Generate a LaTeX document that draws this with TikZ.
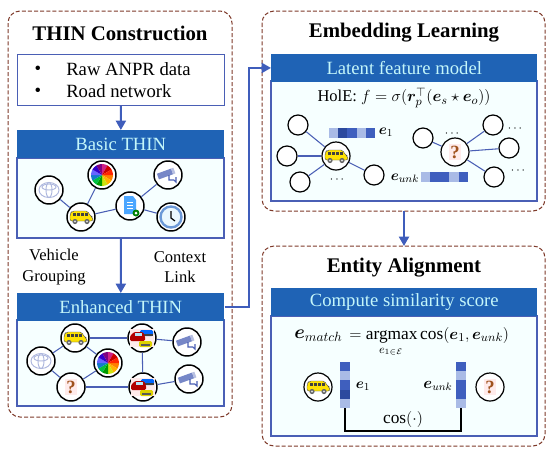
\documentclass[tikz,border=0pt]{standalone}
\usepackage{amsmath,bm}
\usepackage{fontspec}
\setmainfont{Liberation Serif}
\usetikzlibrary{arrows.meta}
\definecolor{hdrblue}{HTML}{1F63B5}
\definecolor{hdrtext}{HTML}{C4F6FA}
\definecolor{edgeblue}{HTML}{4A5FB5}
\definecolor{flowblue}{HTML}{3F5DBB}
\definecolor{dashbrown}{HTML}{7E3A2A}
\definecolor{tintbg}{HTML}{F6FFFF}
\definecolor{cellA}{HTML}{3F5FBE}
\definecolor{cellB}{HTML}{A9BBE6}
\definecolor{cellC}{HTML}{2C4A9E}
\definecolor{qbrown}{HTML}{A0521E}
\tikzset{
 x=0.75pt,y=-0.75pt,
 panel/.style={draw=dashbrown,dash pattern=on 3pt off 1.6pt,line width=0.75pt,rounded corners=9pt},
 boxframe/.style={draw=edgeblue,line width=0.9pt,fill=tintbg},
 hdr/.style={fill=hdrblue,text=hdrtext,font=\fontsize{14}{16}\selectfont,inner sep=0pt,anchor=north west,minimum height=20.5pt},
 ttl/.style={font=\bfseries\fontsize{15.6}{17}\selectfont,inner sep=0pt},
 lbl/.style={font=\fontsize{12.4}{14}\selectfont,inner sep=0pt,align=center},
 big/.style={font=\fontsize{14}{16}\selectfont},
 mid/.style={font=\fontsize{13}{15}\selectfont},
 flow/.style={draw=flowblue,line width=1.5pt,-{Triangle[length=7pt,width=7.5pt]}},
 ent/.style={circle,draw=black,line width=1.1pt,fill=white,minimum size=21pt,inner sep=0pt},
 hollow/.style={circle,draw=black,line width=0.9pt,fill=white,minimum size=15pt,inner sep=0pt},
 link/.style={draw=edgeblue,line width=0.8pt},
 qm/.style={font=\bfseries\fontsize{14}{14}\selectfont,text=qbrown,fill=red!8,inner sep=1pt},
 busicon/.pic={
  \fill[yellow!85!orange,draw=black!70,line width=.3pt,rounded corners=1.5pt] (-11,4) -- (-11,-3) -- (-9,-6) -- (7,-6) -- (9,-1) -- (12,0) -- (12,4) -- cycle;
  \foreach \q in {-8,-4,0,4}{\fill[black!75] (\q,-4.5) rectangle ++(2.6,3.2);}
  \fill[gray!80!black] (-6,4.5) circle (2.6) (6,4.5) circle (2.6);
  \fill[gray!30] (-6,4.5) circle (1.1) (6,4.5) circle (1.1);
 },
 wheelicon/.pic={
  \foreach \a/\c in {0/orange,30/orange!60!yellow,60/yellow!80!green,90/green!60!black,120/green!50!teal,150/cyan!60!blue,180/blue!60,210/blue!60!violet,240/violet,270/magenta!70!violet,300/red!80!black,330/red!70!orange}{
   \fill[\c] (0,0) -- (\a:11) arc[start angle=\a,delta angle=30,radius=11] -- cycle;}
 },
 camicon/.pic={
  \fill[edgeblue!75,rotate=20] (-10,-5) rectangle (5,1);
  \fill[edgeblue!40,rotate=20] (5,-5) rectangle (7.5,1);
  \draw[edgeblue,line width=.8pt] (1,0) -- (1,5) -- (6,5) -- (8,7) -- (8,2);
 },
 clockicon/.pic={
  \draw[cyan!50!blue!60,line width=1.8pt,fill=cyan!8] (0,0) circle (10.5);
  \draw[black,line width=.9pt] (0,-6) -- (0,1) -- (4,4);
 },
 docicon/.pic={
  \fill[blue!50!cyan!70] (-6,-10) -- (3,-10) -- (6,-6) -- (6,8) -- (-6,8) -- cycle;
  \draw[white,line width=.4pt] (-3,-4) -- (3,-4) (-3,-1) -- (3,-1) (-3,2) -- (3,2);
  \fill[green!50!black] (6,7) circle (3.5);
  \fill[white] (6,7) circle (1.5);
 },
 toyicon/.pic={
  \draw[edgeblue!45,line width=.7pt] (0,0) ellipse (10 and 7.5);
  \draw[edgeblue!45,line width=.7pt] (0,0) ellipse (3 and 7.5);
  \draw[edgeblue!45,line width=.7pt] (0,-3) ellipse (7 and 3);
 },
 carsicon/.pic={
  \fill[red!8] (-12,-9) rectangle (12,9);
  \fill[blue!60!cyan,rounded corners=1pt] (-2,-8) rectangle (11,-2);
  \fill[black!75] (-2,-4) rectangle (11,-2);
  \fill[red!70!black,rounded corners=1pt] (-12,-2) -- (-8,-6) -- (1,-6) -- (3,-2) -- (3,3) -- (-12,3) -- cycle;
  \fill[white!70!cyan] (-7,-5) rectangle (0,-2.5);
  \fill[yellow!70!olive,rounded corners=1pt] (-3,3) rectangle (10,9);
  \fill[black!65] (-1,6) rectangle (8,7.5);
 },
}
\begin{document}
\begin{tikzpicture}
\useasboundingbox (0,0) rectangle (550,451);
\fill[white] (0,0) rectangle (550,451);
% panels
\draw[panel] (8,11) rectangle (232,417);
\draw[panel] (262,11) rectangle (545,211);
\draw[panel] (262,246) rectangle (545,446);
% titles
\node[ttl] at (120,33) {THIN Construction};
\node[ttl] at (404,33) {Embedding Learning};
\node[ttl] at (404,268) {Entity Alignment};
% input box
\node[draw=edgeblue,line width=.9pt,fill=white,anchor=north west,minimum width=155.25pt,minimum height=38.25pt,inner sep=0pt] (raw) at (17,54) {};
\node[lbl,big] at (38,70.5) {•};
\node[lbl,big] at (38,92.5) {•};
\node[lbl,big,anchor=west] at (66,69.5) {Raw ANPR data};
\node[lbl,big,anchor=west] at (66,91.5) {Road network};
% content frames
\draw[boxframe] (17,158) rectangle (224,238);
\draw[boxframe] (17,320) rectangle (224,406);
\draw[boxframe] (271,81) rectangle (537,201);
\draw[boxframe] (271,316) rectangle (537,436);
% headers
\node[hdr,minimum width=155.25pt] (basic) at (17,130) {Basic THIN};
\node[hdr,minimum width=155.25pt] (enh) at (17,293) {Enhanced THIN};
\node[hdr,minimum width=199.5pt] (lat) at (271,54) {Latent feature model};
\node[hdr,minimum width=199.5pt] (comp) at (271,288) {Compute similarity score};
% group frames
\coordinate (basicb) at (121,238);
\coordinate (embb) at (404,211);
\coordinate (entt) at (404,246);
\draw[flow] (raw) -- (basic);
\draw[flow] (basicb) -- (enh);
\draw[flow] (enh.east) -- ++(24,0) |- (lat.west);
\draw[flow] (embb) -- (entt);
\node[lbl] at (54,267) {Vehicle\\[1.5pt]Grouping};
\node[lbl] at (180,267) {Context\\[1.5pt]Link};
% Basic THIN graph
\node[ent] (b1) at (49,190) {};
\node[ent] (b2) at (102,175) {};
\node[ent] (b3) at (168,175) {};
\node[ent] (b4) at (130,206) {};
\node[ent] (b5) at (81,217) {};
\node[ent] (b6) at (171,217) {};
\path (b1) pic {toyicon};
\path (b2) pic {wheelicon};
\path (b3) pic {camicon};
\path (b4) pic {docicon};
\path (b5) pic {busicon};
\path (b6) pic {clockicon};
\draw[link] (b1) -- (b5);
\draw[link] (b2) -- (b5);
\draw[link] (b5) -- (b4);
\draw[link] (b4) -- (b3);
\draw[link] (b4) -- (b6);
% Enhanced THIN graph
\node[ent] (e1) at (41,361) {};
\node[ent] (e2) at (75,338) {};
\node[ent] (e3) at (108,363) {};
\node[ent] (e4) at (71,387) {};
\node[ent] (e5) at (142,338) {};
\node[ent] (e6) at (143,387) {};
\node[ent] (e7) at (187,342) {};
\node[ent] (e8) at (189,379) {};
\path (e1) pic {toyicon};
\path (e2) pic {busicon};
\path (e3) pic {wheelicon};
\node[qm] at (e4) {?};
\path (e5) pic {carsicon};
\path (e6) pic {carsicon};
\path (e7) pic {camicon};
\path (e8) pic {camicon};
\draw[link] (e1) -- (e2);
\draw[link] (e1) -- (e4);
\draw[link] (e2) -- (e3);
\draw[link] (e4) -- (e3);
\draw[link] (e2) -- (e5);
\draw[link] (e4) -- (e6);
\draw[link] (e5) -- (e6);
\draw[link] (e5) -- (e7);
\draw[link] (e6) -- (e8);
% Embedding
\node[lbl] at (404,98) {HolE: $f=\sigma(\bm{r}_p^{\top}(\bm{e}_s\star\bm{e}_o))$};
\node[hollow] (l1) at (298,125) {};
\node[hollow] (l2) at (287,156) {};
\node[hollow] (l3) at (300,182) {};
\node[hollow] (l4) at (374,175) {};
\node[ent,line width=.9pt] (lb) at (336,156) {};
\path (lb) pic {busicon};
\draw[link] (l1) -- (lb);
\draw[link] (l2) -- (lb);
\draw[link] (l3) -- (lb);
\draw[link] (l4) -- (lb);
\node[hollow] (r1) at (423,138) {};
\node[hollow] (r2) at (493,125) {};
\node[hollow] (r3) at (509,148) {};
\node[hollow] (r4) at (494,177) {};
\node[ent,line width=.9pt] (rq) at (455,152) {};
\node[qm] at (rq) {?};
\draw[link] (r1) -- (rq);
\draw[link] (r2) -- (rq);
\draw[link] (r3) -- (rq);
\draw[link] (r4) -- (rq);
\foreach \i/\c in {0/cellB,1/cellC,2/cellA,3/cellB,4/cellA}{\fill[\c] (329+9.2*\i,128) rectangle ++(9.2,9.5);}
\foreach \i/\c in {0/cellB,1/cellA,2/cellA,3/cellB,4/cellA}{\fill[\c] (421+9.4*\i,172) rectangle ++(9.4,10);}
\node[lbl,font=\fontsize{11}{13}\selectfont] at (386,132) {$\bm{e}_1$};
\node[lbl,font=\fontsize{11}{13}\selectfont] at (405,178) {$\bm{e}_{unk}$};
\foreach \p in {(338,180),(453,134),(516,129),(519,171)}{\node[lbl,font=\fontsize{9}{9}\selectfont] at \p {$\cdots$};}
% Alignment
\node[lbl,big,anchor=west] at (294,336) {$\bm{e}_{match}$};
\node[lbl,mid,anchor=west] at (349,335) {$=\text{argmax}\,\text{cos}(\bm{e}_1,\bm{e}_{unk})$};
\node[lbl,font=\fontsize{9}{10}\selectfont] at (391,352) {$e_{1\in\mathcal{E}}$};
\foreach \i/\c in {0/cellA,1/cellB,2/cellA,3/cellC,4/cellB}{\fill[\c] (340,362+9.2*\i) rectangle ++(10,9.2);}
\foreach \i/\c in {0/cellA,1/cellB,2/cellA,3/cellA,4/cellB}{\fill[\c] (456,362+9.2*\i) rectangle ++(10,9.2);}
\coordinate (lbarb) at (345,408);
\coordinate (rbarb) at (461,408);
\coordinate (cosL) at (345,431);
\coordinate (cosR) at (461,431);
\draw[black,line width=.8pt] (lbarb) -- (cosL) -- (cosR) -- (rbarb);
\node[ent,line width=.9pt] (ab) at (318,387) {};
\path (ab) pic {busicon};
\node[ent,line width=.9pt] (aq) at (490,387) {};
\node[qm] at (aq) {?};
\node[lbl,font=\fontsize{11}{13}\selectfont] at (363,386) {$\bm{e}_1$};
\node[lbl,font=\fontsize{11.5}{13}\selectfont] at (438,386) {$\bm{e}_{unk}$};
\node[lbl,mid] at (403,419) {$\text{cos}(\cdot)$};
\end{tikzpicture}
\end{document}
